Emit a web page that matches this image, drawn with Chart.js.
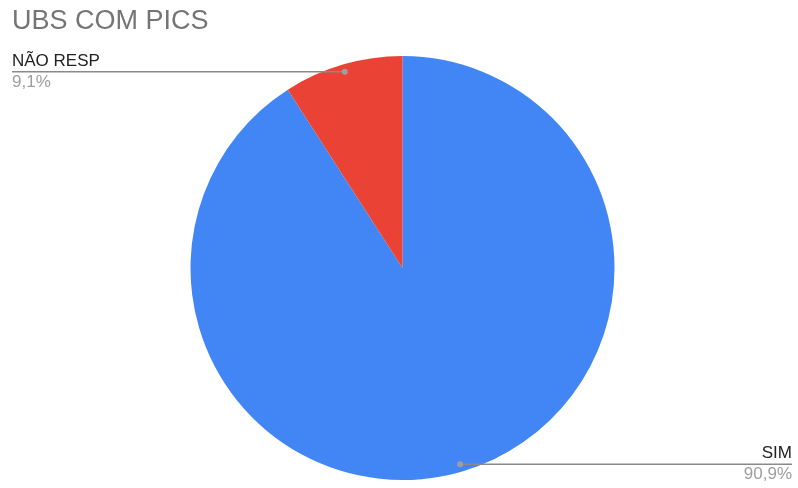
<!DOCTYPE html>
<html>
<head>
<meta charset="utf-8">
<script src="https://cdn.jsdelivr.net/npm/chart.js@4/dist/chart.umd.min.js"></script>
<style>
  html, body { margin: 0; padding: 0; background: #fff; }
  #wrap { width: 798px; height: 488px; }
</style>
</head>
<body>
<div id="wrap"><canvas id="pie" width="798" height="488"></canvas></div>
<script>
// ─── データ ──────────────────────────────
const TITLE = 'UBS COM PICS';
const labels = ['SIM', 'NÃO RESP'];
const values = [90.9, 9.1];
const colors = ['#4285f4', '#ea4335'];

const FONT = "Arial, 'Liberation Sans', sans-serif";

// 外部ラベル（引き出し線 + 名前 + 割合）
const leaderLabels = {
  id: 'leaderLabels',
  afterDraw(chart) {
    const { ctx, width } = chart;
    const meta = chart.getDatasetMeta(0);
    const total = values.reduce((a, b) => a + b, 0);

    ctx.save();
    // タイトル
    ctx.font = `27px ${FONT}`;
    ctx.fillStyle = '#757575';
    ctx.textBaseline = 'alphabetic';
    ctx.textAlign = 'left';
    ctx.fillText(TITLE, 12, 29);

    meta.data.forEach((arc, i) => {
      const mid = (arc.startAngle + arc.endAngle) / 2;
      const r = arc.outerRadius * 0.965;
      const px = arc.x + Math.cos(mid) * r;
      const py = arc.y + Math.sin(mid) * r;
      const right = Math.cos(mid) > 0;
      const endX = right ? width - 6 : 12;

      ctx.strokeStyle = '#8a8a8a';
      ctx.lineWidth = 1.5;
      ctx.beginPath();
      ctx.moveTo(px, py);
      ctx.lineTo(endX, py);
      ctx.stroke();

      ctx.fillStyle = '#9e9e9e';
      ctx.beginPath();
      ctx.arc(px, py, 3, 0, Math.PI * 2);
      ctx.fill();

      const pct = (values[i] / total * 100).toFixed(1).replace('.', ',') + '%';
      ctx.textAlign = right ? 'right' : 'left';
      ctx.font = `17px ${FONT}`;
      ctx.textBaseline = 'alphabetic';
      ctx.fillStyle = '#222222';
      ctx.fillText(labels[i], endX, py - 6);
      ctx.fillStyle = '#9e9e9e';
      ctx.fillText(pct, endX, py + 15);
    });
    ctx.restore();
  },
};

new Chart(document.getElementById('pie').getContext('2d'), {
  type: 'pie',
  data: {
    labels,
    datasets: [{ data: values, backgroundColor: colors, borderWidth: 0 }],
  },
  options: {
    responsive: false,
    animation: false,
    layout: { padding: { top: 56, bottom: 8, left: 100, right: 93 } },
    plugins: {
      legend: { display: false },
      tooltip: { enabled: false },
    },
  },
  plugins: [leaderLabels],
});
</script>
</body>
</html>
